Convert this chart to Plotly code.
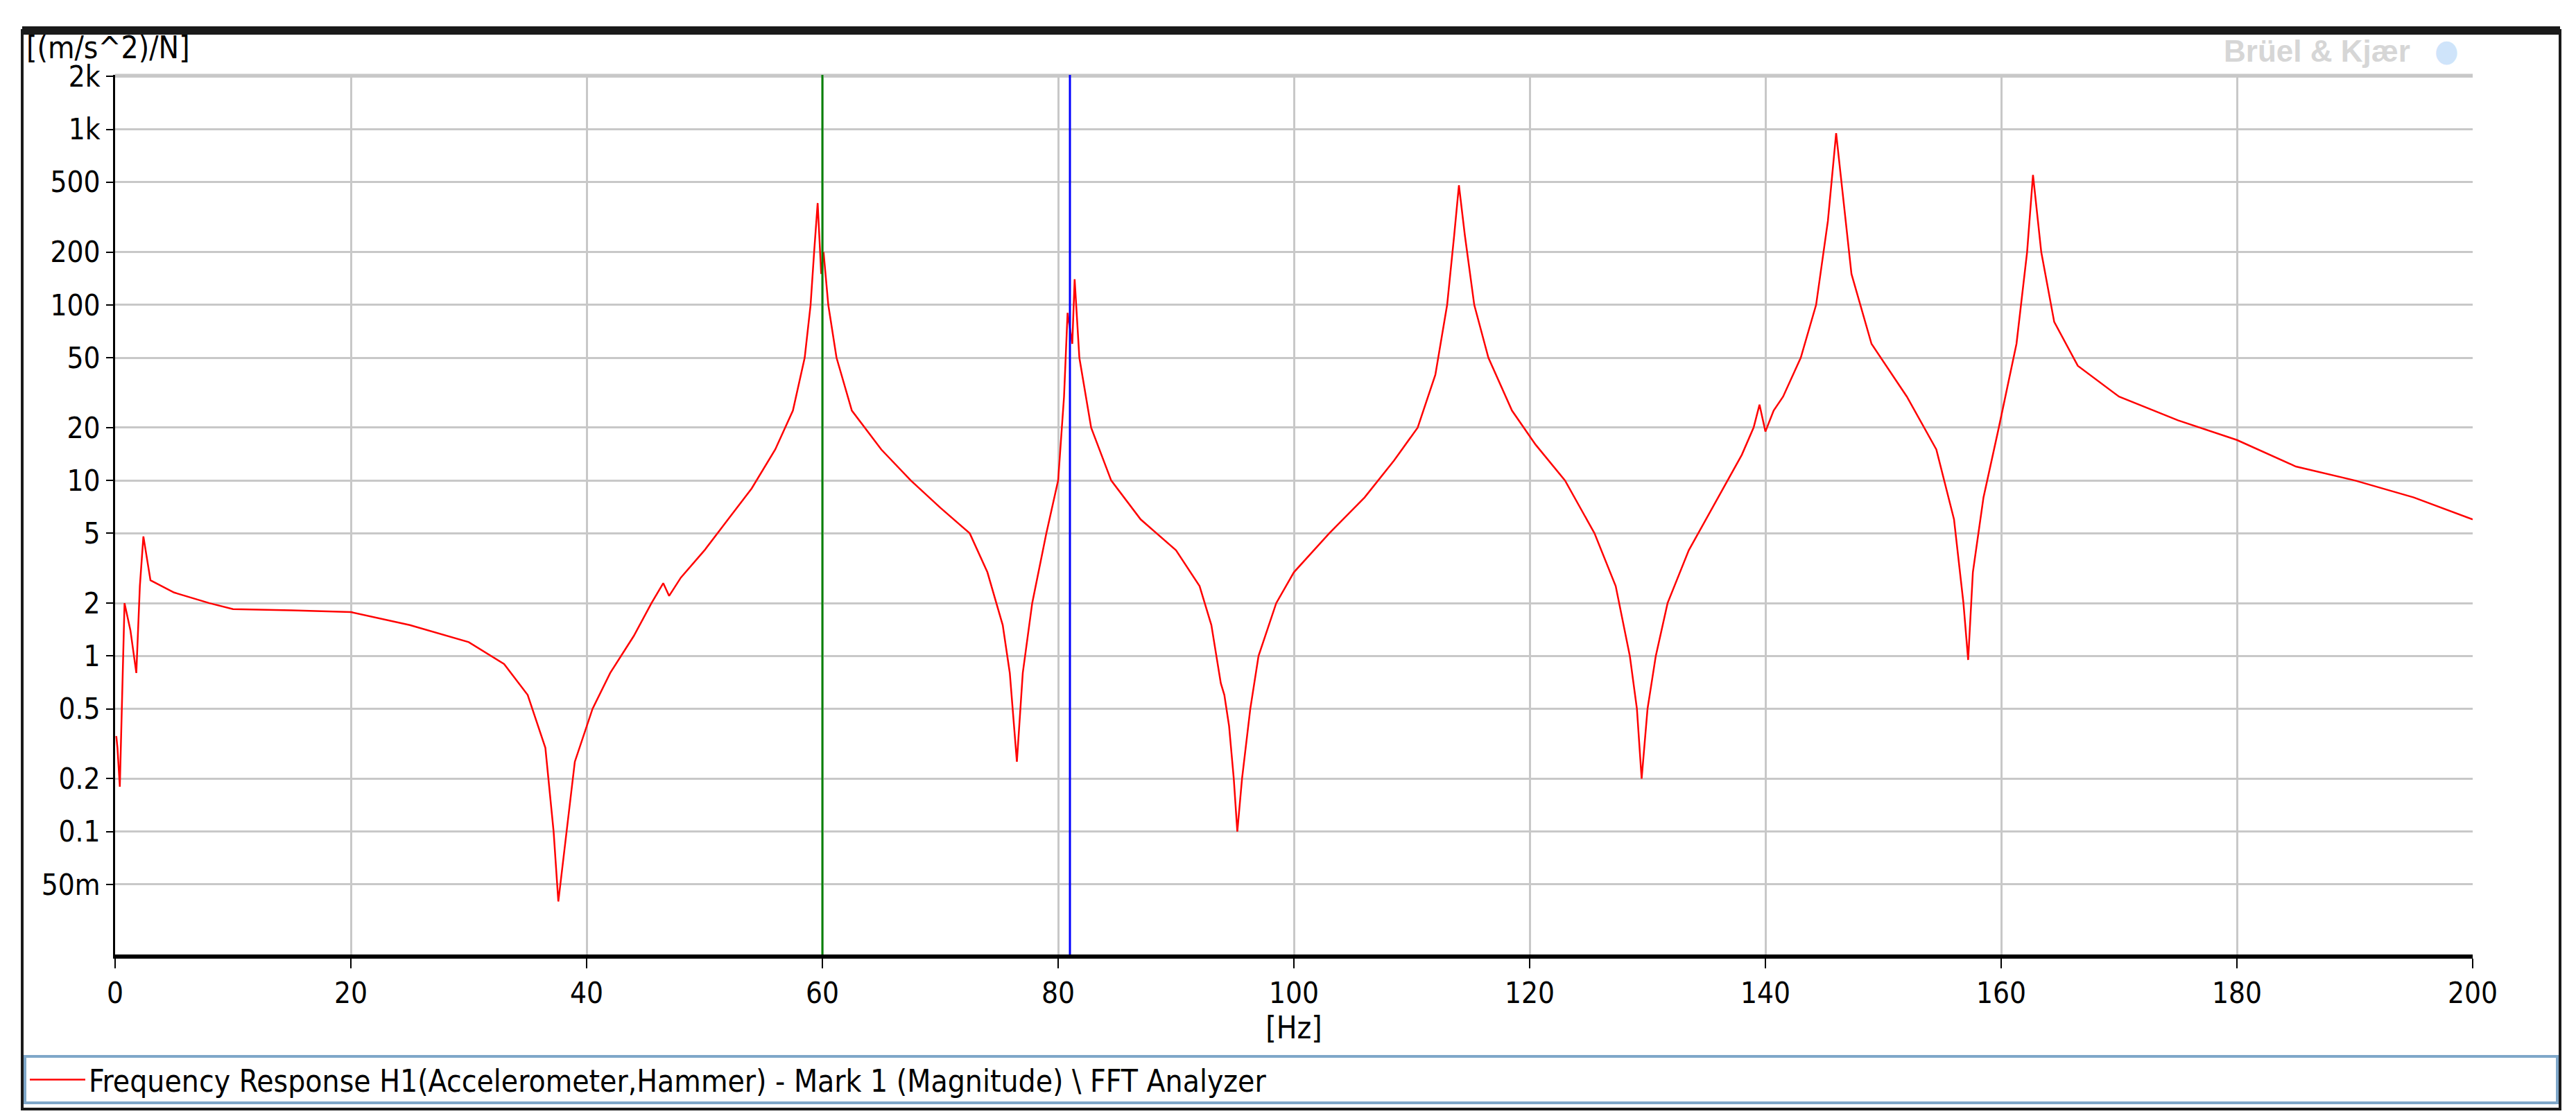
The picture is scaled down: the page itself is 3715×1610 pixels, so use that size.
import plotly.graph_objects as go

# frequency response
freq = [0.1, 0.2, 0.4, 0.8, 1.3, 1.8, 2.1, 2.4, 3, 5, 8, 10, 15, 20, 25, 30, 33, 35, 36.5, 37.2, 37.6,
        38.3, 39, 40.5, 42, 44, 45.5, 46.5, 47, 48, 50, 52, 54, 56, 57.5, 58.5, 59, 59.3, 59.6, 59.9,
        60.1, 60.5, 61.2, 62.5, 65, 67.5, 70, 72.5, 74, 75.3, 75.9, 76.5, 77, 77.8, 79, 80, 80.5,
        80.8, 81.2, 81.4, 81.8, 82.8, 84.5, 87, 90, 92, 93, 93.8, 94.1, 94.5, 94.9, 95.2, 95.6, 96.3,
        97, 98.5, 100, 103, 106, 108.5, 110.5, 112, 113, 113.6, 114, 114.5, 115.3, 116.5, 118.5,
        120.5, 123, 125.5, 127.3, 128.5, 129.1, 129.5, 130, 130.7, 131.7, 133.5, 136, 138, 139,
        139.5, 140, 140.7, 141.5, 143, 144.3, 145.3, 146, 146.6, 147.3, 149, 152, 154.5, 156,
        156.8, 157.2, 157.6, 158.5, 159.8, 161.3, 162.2, 162.7, 163.4, 164.5, 166.5, 170, 175,
        180, 185, 190, 195, 200]
mag = [0.35, 0.3, 0.18, 2.0, 1.4, 0.8, 2.5, 4.8, 2.7, 2.3, 2.0, 1.85, 1.82, 1.78, 1.5, 1.2, 0.9, 0.6,
       0.3, 0.1, 0.04, 0.1, 0.25, 0.5, 0.8, 1.3, 2.0, 2.6, 2.2, 2.8, 4.0, 6.0, 9.0, 15, 25, 50, 100,
       200, 380, 150, 200, 100, 50, 25, 15, 10, 7, 5, 3, 1.5, 0.8, 0.25, 0.8, 2, 5, 10, 30, 90, 60,
       140, 50, 20, 10, 6, 4, 2.5, 1.5, 0.7, 0.6, 0.4, 0.2, 0.1, 0.2, 0.5, 1, 2, 3, 5, 8, 13, 20,
       40, 100, 250, 480, 250, 100, 50, 25, 16, 10, 5, 2.5, 1, 0.5, 0.2, 0.5, 1, 2, 4, 8, 14, 20,
       27, 19, 25, 30, 50, 100, 300, 950, 400, 150, 60, 30, 15, 6, 2, 0.95, 3, 8, 20, 60, 200, 550,
       200, 80, 45, 30, 22, 17, 12, 10, 8, 6]

markers = [60, 81]
marker_colors = ["#008000", "#0000ff"]
x_ticks = list(range(0, 201, 20))
y_ticks = [0.05, 0.1, 0.2, 0.5, 1, 2, 5, 10, 20, 50, 100, 200, 500, 1000, 2000]
y_labels = ["50m", "0.1", "0.2", "0.5", "1", "2", "5", "10", "20", "50", "100", "200", "500", "1k", "2k"]

font = "Tahoma, DejaVu Sans Condensed, Liberation Sans"
W, H = 3715, 1610
L, R, T, B = 158, 157, 100, 241
pw, ph = W - L - R, H - T - B


def px(x):
    return (x - L) / pw


def py(y):
    return (H - B - y) / ph


fig = go.Figure()
fig.add_trace(go.Scatter(x=freq, y=mag, mode="lines", line=dict(color="#ff0000", width=2.5),
                         name="Frequency Response H1(Accelerometer,Hammer) - Mark 1 (Magnitude) \\ FFT Analyzer"))

fig.update_layout(
    width=W, height=H,
    margin=dict(l=L, r=R, t=T, b=B),
    paper_bgcolor="white", plot_bgcolor="white",
    font=dict(family=font, size=42, color="#000000"),
    showlegend=True,
    legend=dict(x=px(30), y=py(1550), xanchor="left", yanchor="middle", orientation="h",
                bgcolor="rgba(0,0,0,0)", font=dict(size=44), itemwidth=80),
)
fig.update_xaxes(range=[0, 200], tickvals=x_ticks, showgrid=True, gridcolor="#c8c8c8", gridwidth=3,
                 showline=True, linecolor="#000000", linewidth=6, ticks="outside", ticklen=14,
                 tickwidth=2, tickcolor="#000000", zeroline=False,
                 title=dict(text="[Hz]", standoff=6, font=dict(size=44)))
fig.update_yaxes(type="log", range=[-1.70, 3.31], tickvals=y_ticks, ticktext=y_labels, showgrid=True,
                 gridcolor="#c8c8c8", gridwidth=3, showline=True, linecolor="#000000", linewidth=3,
                 ticks="outside", ticklen=10, tickwidth=2, tickcolor="#000000", zeroline=False)

# outer frame
fig.add_shape(type="rect", xref="paper", yref="paper", x0=px(24), x1=px(3684), y0=py(1592), y1=py(36),
              line=dict(color="#1a1a1a", width=4), layer="above")
fig.add_shape(type="line", xref="paper", yref="paper", x0=px(24), x1=px(3684), y0=py(36), y1=py(36),
              line=dict(color="#1a1a1a", width=12), layer="above")
# legend box
fig.add_shape(type="rect", xref="paper", yref="paper", x0=px(28), x1=px(3680), y0=py(1583), y1=py(1516),
              line=dict(color="#7fa7c9", width=4), layer="above")
# top border of grid
fig.add_shape(type="line", xref="paper", yref="paper", x0=0, x1=1, y0=1, y1=1,
              line=dict(color="#c8c8c8", width=3))
for m, c in zip(markers, marker_colors):
    fig.add_vline(x=m, line=dict(color=c, width=3))

fig.add_annotation(text="[(m/s^2)/N]", xref="paper", yref="paper", x=px(28), y=py(88),
                   xanchor="left", yanchor="bottom", showarrow=False, font=dict(size=44))
fig.add_annotation(text="<b>Brüel & Kjær</b>", xref="paper", yref="paper", x=px(3470), y=py(92),
                   xanchor="right", yanchor="bottom", showarrow=False,
                   font=dict(size=44, color="#d6d6d6", family="Liberation Sans"))
fig.add_annotation(text="●", xref="paper", yref="paper", x=px(3540), y=py(92),
                   xanchor="right", yanchor="bottom", showarrow=False,
                   font=dict(size=44, color="#cfe4fa"))

fig.write_html("out.html")
